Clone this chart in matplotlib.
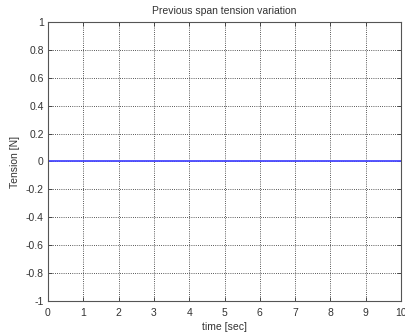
import numpy as np
import matplotlib.pyplot as plt

# time samples and the tension (flat zero over the whole run)
time = [0, 1, 2, 3, 4, 5, 6, 7, 8, 9, 10]
tension = [0, 0, 0, 0, 0, 0, 0, 0, 0, 0, 0]

xticks = list(range(0, 11))
yticks = [-1, -0.8, -0.6, -0.4, -0.2, 0, 0.2, 0.4, 0.6, 0.8, 1]
ytick_labels = ["-1", "-0.8", "-0.6", "-0.4", "-0.2", "0", "0.2", "0.4", "0.6", "0.8", "1"]

plt.rcParams['font.family'] = ['Liberation Sans', 'DejaVu Sans']

fig = plt.figure(figsize=(4.06, 3.36), dpi=100)
ax = fig.add_axes([0.118, 0.104, 0.870, 0.831])

ax.plot(time, tension, color="#4848ff", linewidth=1.3)

ax.set_xlim(0, 10)
ax.set_ylim(-1, 1)
ax.set_xticks(xticks)
ax.set_yticks(yticks)
ax.set_yticklabels(ytick_labels)
ax.tick_params(labelsize=7.5, direction="in", length=3, width=0.6, top=True, right=True,
               colors="#333333")
ax.tick_params(axis="x", pad=5)
ax.tick_params(axis="y", pad=3)
ax.grid(True, color="#222222", linestyle=(0, (1, 1.6)), linewidth=0.6)
for s in ax.spines.values():
    s.set_linewidth(0.8)
    s.set_color("#555555")

ax.set_title("Previous span tension variation", fontsize=7.5, pad=6, color="#333333")
ax.set_xlabel("time [sec]", fontsize=7.5, labelpad=3, color="#333333")
ax.set_ylabel("Tension [N]", fontsize=7.5, labelpad=4, color="#333333")

fig.savefig("out.png", dpi=100)
